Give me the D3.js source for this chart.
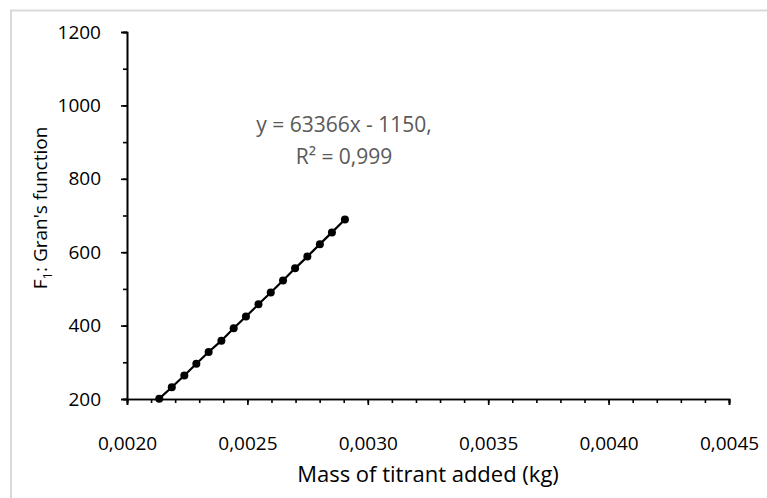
<!DOCTYPE html>
<html><head><meta charset="utf-8">
<script src="https://cdn.jsdelivr.net/npm/d3@7"></script>
<style>html,body{margin:0;padding:0;background:#fff;}svg{display:block;font-family:"Open Sans",sans-serif;}</style>
</head><body>
<svg id="c" width="767" height="498"></svg>
<script>
const massKg = [0.002134,0.002186,0.002238,0.002288,0.002339,0.002392,0.002443,0.002494,0.002546,0.002597,0.002648,0.002698,0.002749,0.002801,0.002851,0.002905];
const granF1 = [201,232,264,296,328,359,393,425,458,490,523,556,588,622,654,689];
const xTicks = [0.0020,0.0025,0.0030,0.0035,0.0040,0.0045];
const yTicks = [200,400,600,800,1000,1200];
const xMinorTicks = d3.range(20,46).map(d=>d/10000);
const yMinorTicks = d3.range(200,1201,100);
const eqLines = ["y = 63366x - 1150,", "R² = 0,999"];

const svg = d3.select("#c");
svg.append("rect").attr("x",11).attr("y",10.5).attr("width",770).attr("height",500)
  .attr("fill","#fff").attr("stroke","#d9d9d9").attr("stroke-width",2);

const x = d3.scaleLinear().domain([0.0020,0.0045]).range([127,729]);
const y = d3.scaleLinear().domain([200,1200]).range([399,32]);
const fmt = d => d.toFixed(4).replace(".",",");

const gxm = svg.append("g").attr("transform","translate(0,399)")
  .call(d3.axisBottom(x).tickValues(xMinorTicks).tickSize(4).tickFormat(""));
const gym = svg.append("g").attr("transform","translate(127,0)")
  .call(d3.axisLeft(y).tickValues(yMinorTicks).tickSize(4).tickFormat(""));
const gx = svg.append("g").attr("transform","translate(0,399)")
  .call(d3.axisBottom(x).tickValues(xTicks).tickSize(6).tickPadding(45).tickFormat(fmt));
const gy = svg.append("g").attr("transform","translate(127,0)")
  .call(d3.axisLeft(y).tickValues(yTicks).tickSize(6).tickPadding(20).tickFormat(d=>d));
[gxm,gym,gx,gy].forEach(g=>{
  g.select(".domain").attr("stroke","#000").attr("stroke-width",1.6);
  g.selectAll(".tick line").attr("stroke","#000").attr("stroke-width",1.6);
  g.selectAll(".tick text").attr("fill","#000").style("font-size","19px").style("font-family","'Open Sans',sans-serif");
});
gx.selectAll(".tick text").attr("dy","0");

svg.append("path").datum(massKg.map((m,i)=>[m,granF1[i]]))
  .attr("fill","none").attr("stroke","#000").attr("stroke-width",2.2)
  .attr("d", d3.line().x(d=>x(d[0])).y(d=>y(d[1])));
svg.append("g").selectAll("circle").data(massKg).join("circle")
  .attr("cx",d=>x(d)).attr("cy",(d,i)=>y(granF1[i])).attr("r",4).attr("fill","#000");

svg.append("g").selectAll("text").data(eqLines).join("text")
  .attr("x",344).attr("y",(d,i)=>132+i*32).attr("text-anchor","middle")
  .attr("fill","#595959").style("font-size","21px").text(d=>d);

svg.append("text").attr("x",428).attr("y",482).attr("text-anchor","middle")
  .attr("fill","#000").style("font-size","22px").text("Mass of titrant added (kg)");
const yt = svg.append("text").attr("transform","translate(47,208) rotate(-90)")
  .attr("text-anchor","middle").attr("fill","#000").style("font-size","19px");
yt.append("tspan").text("F");
yt.append("tspan").attr("dy",5).style("font-size","13px").text("1");
yt.append("tspan").attr("dy",-5).text(": Gran's function");
</script>
</body></html>
